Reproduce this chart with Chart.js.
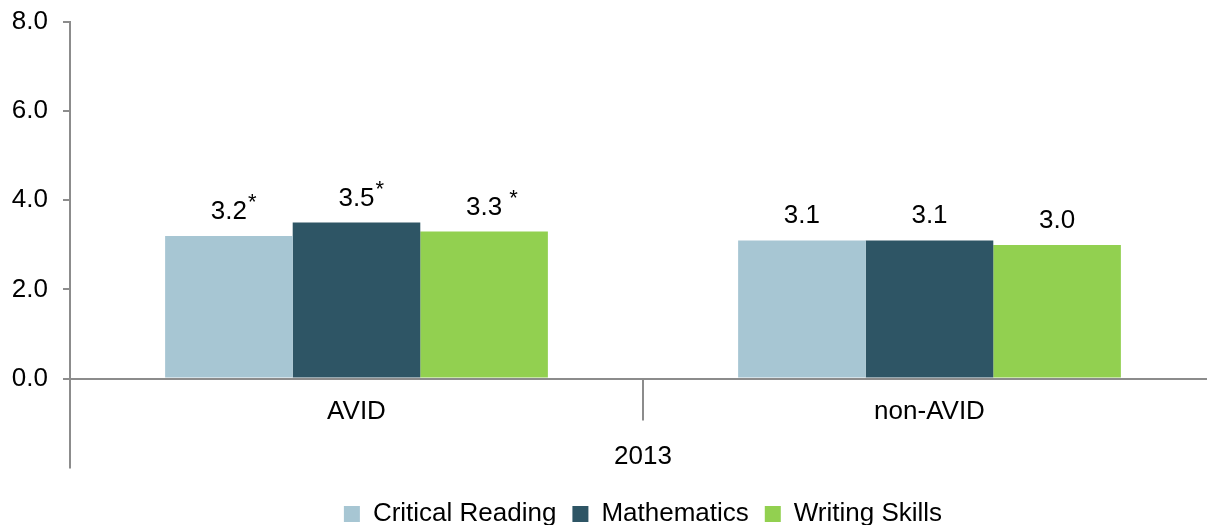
<!DOCTYPE html>
<html>
<head>
<meta charset="utf-8">
<script src="https://cdn.jsdelivr.net/npm/chart.js@4"></script>
<style>
  html, body { margin: 0; padding: 0; background: #fff; }
  #wrap { width: 1207px; height: 525px; overflow: hidden; }
</style>
</head>
<body>
<div id="wrap"><canvas id="chart" width="1216" height="525"></canvas></div>
<script>
/**
 * Data
 */
const categories = ['AVID', 'non-AVID'];
const groupTitle = '2013';
const seriesNames = ['Critical Reading', 'Mathematics', 'Writing Skills'];
const criticalReading = [3.2, 3.1];
const mathematics = [3.5, 3.1];
const writingSkills = [3.3, 3.0];
// marks shown next to the value (significance)
const criticalReadingNotes = ['*', ''];
const mathematicsNotes = ['*', ''];
const writingSkillsNotes = [' *', ''];
const yTicks = [0, 2, 4, 6, 8];

const colors = ['#A7C6D3', '#2E5565', '#92D050'];
const axisGray = '#8C8C8C';
const fontFamily = '"Liberation Sans", Arial, sans-serif';

const seriesValues = [criticalReading, mathematics, writingSkills];
const seriesNotes = [criticalReadingNotes, mathematicsNotes, writingSkillsNotes];

/**
 * Plugins
 */
// Etiquetas de valor encima de cada barra, con asterisco en superindice
const valueLabels = {
  id: 'valueLabels',
  afterDatasetsDraw(chart) {
    const ctx = chart.ctx;
    ctx.save();
    chart.data.datasets.forEach((ds, i) => {
      const meta = chart.getDatasetMeta(i);
      meta.data.forEach((bar, j) => {
        const text = ds.data[j].toFixed(1);
        const base = bar.y - 17;
        ctx.font = '26px ' + fontFamily;
        ctx.fillStyle = '#000';
        ctx.textAlign = 'center';
        ctx.textBaseline = 'alphabetic';
        ctx.fillText(text, bar.x, base);
        const note = seriesNotes[i][j];
        if (note) {
          const w = ctx.measureText(text).width;
          ctx.font = '22px ' + fontFamily;
          ctx.textAlign = 'left';
          ctx.fillText(note, bar.x + w / 2 + 1, base - 10);
        }
      });
    });
    ctx.restore();
  }
};

// Lineas extendidas del eje de categorias (estilo de eje multinivel)
const multiLevelAxis = {
  id: 'multiLevelAxis',
  afterDraw(chart) {
    const ctx = chart.ctx;
    const area = chart.chartArea;
    const x = chart.scales.x;
    ctx.save();
    ctx.strokeStyle = axisGray;
    ctx.lineWidth = 2;
    ctx.beginPath();
    ctx.moveTo(area.left, area.bottom);
    ctx.lineTo(area.left, area.bottom + 90);
    const sep = (x.getPixelForValue(0) + x.getPixelForValue(1)) / 2;
    ctx.moveTo(sep, area.bottom);
    ctx.lineTo(sep, area.bottom + 42);
    ctx.stroke();
    ctx.restore();
  }
};

/**
 * Chart
 */
const createChart = () => {
  const ctx = document.getElementById('chart').getContext('2d');
  new Chart(ctx, {
    type: 'bar',
    data: {
      labels: categories,
      datasets: seriesNames.map((name, i) => ({
        label: name,
        data: seriesValues[i],
        backgroundColor: colors[i],
        borderWidth: 0,
        categoryPercentage: 0.668,
        barPercentage: 1
      }))
    },
    options: {
      responsive: false,
      animation: false,
      layout: { padding: { top: 0, left: 0, right: 0, bottom: -12 } },
      scales: {
        x: {
          grid: { display: false },
          border: { color: axisGray, width: 2 },
          ticks: { color: '#000', font: { family: fontFamily, size: 26 }, padding: 10 },
          title: {
            display: true,
            text: groupTitle,
            color: '#000',
            font: { family: fontFamily, size: 26 },
            padding: { top: 3, bottom: 13 }
          }
        },
        y: {
          min: yTicks[0],
          max: yTicks[yTicks.length - 1],
          afterBuildTicks: (scale) => { scale.ticks = yTicks.map(v => ({ value: v })); },
          afterFit: (scale) => { scale.width = 70; scale.paddingTop = 22; },
          grid: { drawOnChartArea: false, color: axisGray, lineWidth: 2, tickLength: 7 },
          border: { color: axisGray, width: 2 },
          ticks: {
            color: '#000',
            font: { family: fontFamily, size: 26 },
            padding: 15,
            callback: (v) => Number(v).toFixed(1)
          }
        }
      },
      plugins: {
        legend: {
          position: 'bottom',
          fullSize: false,
          labels: {
            color: '#000',
            font: { family: fontFamily, size: 26 },
            boxWidth: 16,
            boxHeight: 16,
            padding: 16
          }
        },
        tooltip: { enabled: false }
      }
    },
    plugins: [valueLabels, multiLevelAxis]
  });
};

document.addEventListener('DOMContentLoaded', createChart);
</script>
</body>
</html>
